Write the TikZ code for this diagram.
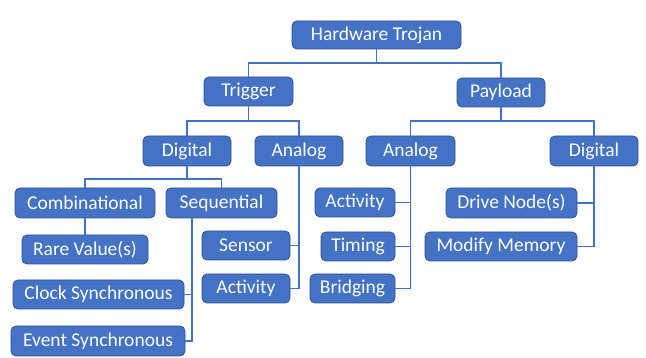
\documentclass[tikz,border=0pt]{standalone}
\usepackage{fontspec}
\setmainfont{Carlito}
\definecolor{boxblue}{HTML}{4472C4}
\definecolor{boxedge}{HTML}{2F528F}
\definecolor{linkblue}{HTML}{4472C4}
\begin{document}
\begin{tikzpicture}[x=1pt,y=-1pt,
  tbox/.style={draw=boxedge, line width=0.8pt, fill=boxblue, rounded corners=5pt,
    text=white, inner sep=0pt, minimum height=29pt,
    font=\fontsize{19.5}{22}\selectfont},
  link/.style={draw=linkblue, line width=1.6pt}]
\useasboundingbox[fill=white] (0,0) rectangle (646,358);
% level 0
\node[tbox, minimum width=169pt, minimum height=28pt] (ht) at (376.5,35) {Hardware Trojan};
% level 1
\node[tbox, minimum width=89pt] (trig) at (248.5,91.5) {Trigger};
\node[tbox, minimum width=88pt] (pay) at (501,92.5) {Payload};
% level 2
\node[tbox, minimum width=88pt, minimum height=30pt] (digL) at (187,151) {Digital};
\node[tbox, minimum width=88pt, minimum height=30pt] (anaL) at (299,151) {Analog};
\node[tbox, minimum width=89pt, minimum height=30pt] (anaR) at (410.5,151) {Analog};
\node[tbox, minimum width=88pt, minimum height=30pt] (digR) at (594,151) {Digital};
% level 3
\node[tbox, minimum width=140pt, minimum height=30pt] (comb) at (85,203) {Combinational};
\node[tbox, minimum width=111pt, minimum height=30pt] (seq) at (221.5,203) {Sequential};
\node[tbox, minimum width=126pt] (rare) at (85,249.5) {Rare Value(s)};
\node[tbox, minimum width=171pt] (clock) at (98.5,294.5) {Clock Synchronous};
\node[tbox, minimum width=174pt, minimum height=30pt] (event) at (98,341) {Event Synchronous};
\node[tbox, minimum width=88pt] (sensor) at (246,245.5) {Sensor};
\node[tbox, minimum width=88pt] (actL) at (246,288.5) {Activity};
\node[tbox, minimum width=80pt] (actR) at (355,202.5) {Activity};
\node[tbox, minimum width=74pt] (timing) at (358,246.5) {Timing};
\node[tbox, minimum width=85pt] (bridg) at (352.5,288.5) {Bridging};
\node[tbox, minimum width=131pt, minimum height=30pt] (drive) at (511.5,203) {Drive Node(s)};
\node[tbox, minimum width=152pt] (modify) at (501,246.5) {Modify Memory};
% bus levels
\coordinate (b0) at (0,63);
\coordinate (b1) at (0,121);
\coordinate (b2) at (0,179);
\coordinate (sq) at (192,218);
% connectors
\draw[link] (ht.south) -- (ht.south |- b0) -| (trig.north);
\draw[link] (ht.south) -- (ht.south |- b0) -| (pay.north);
\draw[link] (trig.south) -- (trig.south |- b1) -| (digL.north);
\draw[link] (trig.south) -- (trig.south |- b1) -| (anaL.north);
\draw[link] (pay.south) -- (pay.south |- b1) -| (anaR.north);
\draw[link] (pay.south) -- (pay.south |- b1) -| (digR.north);
\draw[link] (digL.south) -- (digL.south |- b2) -| (comb.north);
\draw[link] (digL.south) -- (digL.south |- b2) -| (seq.north);
\draw[link] (comb.south) -- (rare.north);
\draw[link] (sq) |- (clock.east);
\draw[link] (sq) |- (event.east);
\draw[link] (anaL.south) |- (sensor.east);
\draw[link] (anaL.south) |- (actL.east);
\draw[link] (anaR.south) |- (actR.east);
\draw[link] (anaR.south) |- (timing.east);
\draw[link] (anaR.south) |- (bridg.east);
\draw[link] (digR.south) |- (drive.east);
\draw[link] (digR.south) |- (modify.east);
\end{tikzpicture}
\end{document}
